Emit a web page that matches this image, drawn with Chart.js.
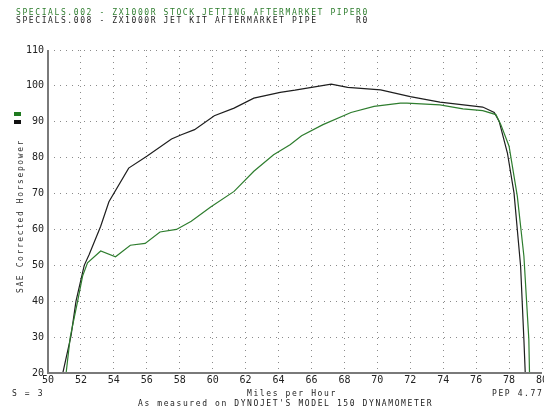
<!DOCTYPE html>
<html>
<head>
<meta charset="utf-8">
<script src="https://cdn.jsdelivr.net/npm/chart.js@4"></script>
<style>
  html, body { margin: 0; padding: 0; background: #ffffff; }
  #wrap { width: 544px; height: 411px; position: relative; }
</style>
</head>
<body>
<div id="wrap"><canvas id="dyno" width="544" height="411"></canvas></div>
<script>
// SPECIALS.002 - stock jetting (green)
var stockMph = [51.1, 51.35, 51.8, 52.1, 52.4, 53.2, 54.1, 55.0, 55.9, 56.8, 57.8, 58.7, 59.9, 61.3, 62.5, 63.7, 64.7, 65.4, 66.7, 68.4, 69.8, 71.4, 71.8, 73.8, 75.2, 76.4, 77.2, 77.5, 78.0, 78.5, 78.9, 79.2, 79.25];
var stockHp = [20, 30, 40, 47, 50.7, 54.0, 52.4, 55.6, 56.1, 59.3, 60.0, 62.3, 66.3, 70.6, 76.2, 80.8, 83.6, 86.1, 89.2, 92.6, 94.3, 95.2, 95.2, 94.7, 93.6, 93.1, 92.0, 89.2, 83.2, 69.3, 52.6, 29.4, 18];

// SPECIALS.008 - jet kit (black)
var jetMph = [50.9, 51.4, 51.7, 52.2, 52.5, 53.2, 53.7, 54.9, 56.0, 57.5, 58.1, 58.9, 60.1, 61.3, 62.5, 64.1, 65.0, 67.2, 68.2, 70.2, 72.0, 73.8, 76.4, 77.1, 77.4, 77.9, 78.3, 78.7, 78.9, 79.0];
var jetHp = [20, 30.4, 40, 50, 53, 60.9, 67.7, 77.1, 80.4, 85.2, 86.4, 87.8, 91.7, 93.8, 96.6, 98.2, 98.8, 100.5, 99.6, 98.9, 97.0, 95.5, 94.1, 92.6, 90.1, 81.3, 70.2, 49.8, 29.4, 18];

var title1 = "SPECIALS.002 - ZX1000R STOCK JETTING AFTERMARKET PIPER0";
var title2 = "SPECIALS.008 - ZX1000R JET KIT AFTERMARKET PIPE      R0";
var yTitle = "SAE Corrected Horsepower";
var xTitle = "Miles per Hour";
var footer = "As measured on DYNOJET'S MODEL 150 DYNAMOMETER";
var smoothing = "S = 3";
var pep = "PEP 4.77";

var green = "#2e7d2e";
var black = "#1e1e1e";

var toPoints = function (xs, ys) {
    var pts = [];
    for (var i = 0; i < xs.length; i++) {
        pts.push({ x: xs[i], y: ys[i] });
    }
    return pts;
};

var textPlugin = {
    id: "dynoText",
    afterDraw: function (chart) {
        var ctx = chart.ctx;
        var area = chart.chartArea;
        ctx.save();
        // axis lines
        ctx.strokeStyle = "#7a7a7a";
        ctx.lineWidth = 2;
        ctx.beginPath();
        ctx.moveTo(area.left, area.top);
        ctx.lineTo(area.left, area.bottom);
        ctx.lineTo(area.right, area.bottom);
        ctx.stroke();

        ctx.font = "8px 'DejaVu Sans Mono'";
        ctx.letterSpacing = "1.6px";
        ctx.textBaseline = "alphabetic";
        ctx.textAlign = "left";
        ctx.fillStyle = green;
        ctx.fillText(title1, 16, 15);
        ctx.fillStyle = black;
        ctx.fillText(title2, 16, 22.5);

        ctx.fillStyle = "#222";
        ctx.fillText(smoothing, 12, 396);
        ctx.fillText(xTitle, 247, 396);
        ctx.fillText(pep, 492, 396);
        ctx.fillText(footer, 138, 406);

        // legend swatches
        ctx.fillStyle = "#1f7a1f";
        ctx.fillRect(14, 112, 7, 4);
        ctx.fillStyle = "#111";
        ctx.fillRect(14, 120, 7, 4);

        ctx.translate(23, 216);
        ctx.rotate(-Math.PI / 2);
        ctx.textAlign = "center";
        ctx.fillStyle = "#333";
        ctx.fillText(yTitle, 0, 0);
        ctx.restore();
    },
};

var myChart = document.getElementById("dyno").getContext("2d");
var chart = new Chart(myChart, {
    type: "line",
    data: {
        datasets: [
            {
                label: "SPECIALS.002",
                data: toPoints(stockMph, stockHp),
                borderColor: green,
                borderWidth: 1.2,
                pointRadius: 0,
                tension: 0,
            },
            {
                label: "SPECIALS.008",
                data: toPoints(jetMph, jetHp),
                borderColor: black,
                borderWidth: 1.2,
                pointRadius: 0,
                tension: 0,
            },
        ],
    },
    options: {
        responsive: false,
        animation: false,
        devicePixelRatio: 1,
        layout: { padding: { left: 0, top: 50, right: 2, bottom: 0 } },
        plugins: {
            legend: { display: false },
            tooltip: { enabled: false },
        },
        scales: {
            x: {
                type: "linear",
                min: 50,
                max: 80,
                afterFit: function (scale) {
                    scale.height = 38;
                    scale.paddingLeft = 0;
                    scale.paddingRight = 0;
                },
                ticks: {
                    stepSize: 2,
                    color: "#222",
                    padding: 1,
                    font: { family: "DejaVu Sans Mono", size: 10 },
                },
                grid: { color: "#8a8a8a", lineWidth: 1, drawTicks: false },
                border: { display: false, dash: [1, 5] },
            },
            y: {
                min: 20,
                max: 110,
                afterFit: function (scale) {
                    scale.width = 48;
                    scale.paddingTop = 0;
                    scale.paddingBottom = 0;
                },
                ticks: {
                    stepSize: 10,
                    color: "#222",
                    padding: 4,
                    font: { family: "DejaVu Sans Mono", size: 10 },
                },
                grid: { color: "#8a8a8a", lineWidth: 1, drawTicks: false },
                border: { display: false, dash: [1, 5] },
            },
        },
    },
    plugins: [textPlugin],
});
</script>
</body>
</html>
